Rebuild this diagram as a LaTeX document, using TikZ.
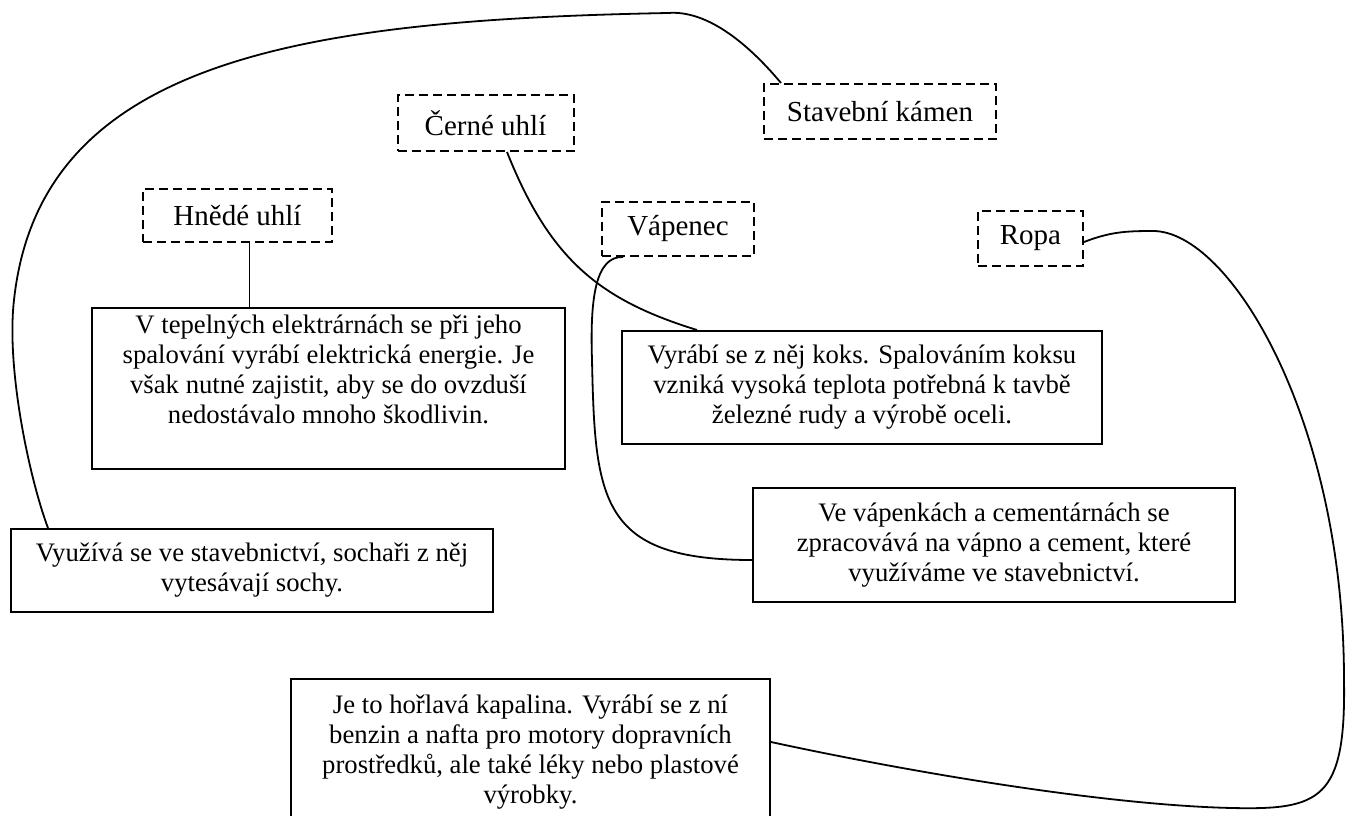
\documentclass[tikz,border=0pt]{standalone}
\usepackage{fontspec}
\setmainfont{Liberation Serif}
\begin{document}
\begin{tikzpicture}[x=1pt, y=-1pt,
  nazev/.style={draw, line width=2pt, dash pattern=on 9pt off 5pt, inner sep=0pt, font=\fontsize{29}{33}\selectfont},
  ramec/.style={draw, line width=2pt, inner sep=0pt},
  popis/.style={align=center, inner sep=0pt, font=\fontsize{26.7}{30}\selectfont},
  spoj/.style={line width=1.8pt}]
  \useasboundingbox (0,0) rectangle (1357,816);
  \clip (0,0) rectangle (1357,816);

  % nazvy surovin
  \node[nazev, minimum width=232pt, minimum height=55pt] (kamen) at (880,111.5) {Stavební kámen};
  \node[nazev, minimum width=176pt, minimum height=56pt] (cerne) at (485.5,123) {Černé uhlí};
  \node[nazev, minimum width=189pt, minimum height=53pt] (hnede) at (237.5,215.5) {Hnědé uhlí};
  \node[nazev, minimum width=152pt, minimum height=54pt] (vapenec) at (678,229) {Vápenec};
  \node[nazev, minimum width=105pt, minimum height=55pt] (ropa) at (1030.5,238.5) {Ropa};

  % popisy
  \node[ramec, minimum width=473pt, minimum height=161pt] (tepelne) at (328.5,388.5) {};
  \node[popis, anchor=north] (tepelneText) at ([yshift=-8pt]tepelne.north)
    {V tepelných elektrárnách se při jeho\\
     spalování vyrábí elektrická energie. Je\\
     však nutné zajistit, aby se do ovzduší\\
     nedostávalo mnoho škodlivin.};
  \node[ramec, popis, minimum width=480pt, minimum height=113pt] (vyrabi) at (862,387.5)
    {Vyrábí se z něj koks. Spalováním koksu\\
     vzniká vysoká teplota potřebná k tavbě\\
     železné rudy a výrobě oceli.};
  \node[ramec, popis, minimum width=482pt, minimum height=114pt] (vapkach) at (994,545)
    {Ve vápenkách a cementárnách se\\
     zpracovává na vápno a cement, které\\
     využíváme ve stavebnictví.};
  \node[ramec, popis, minimum width=482pt, minimum height=83pt] (vyuziva) at (252,570.5)
    {Využívá se ve stavebnictví, sochaři z něj\\
     vytesávají sochy.};
  \node[ramec, minimum width=479pt, minimum height=151pt] (jeto) at (530.5,754.5) {};
  \node[popis, anchor=north] (jetoText) at ([yshift=-17pt]jeto.north)
    {Je to hořlavá kapalina. Vyrábí se z ní\\
     benzin a nafta pro motory dopravních\\
     prostředků, ale také léky nebo plastové\\
     výrobky.};

  % spojnice
  \draw[spoj] ([xshift=12pt]hnede.south) -- ([xshift=12pt]hnede.south |- tepelne.north);
  \draw[spoj] ([xshift=21.5pt]cerne.south) .. controls (550,260) and (600,300) .. ([xshift=76pt]vyrabi.north west);
  \draw[spoj] ([xshift=-55pt]vapenec.south) .. controls (595,256) and (590,300) .. (592,360)
    .. controls (595,500) and (600,560) .. ([yshift=-15pt]vapkach.west);
  \draw[spoj] ([xshift=-99pt]kamen.north) .. controls (745,40) and (705,10) .. (668,13)
    .. controls (300,20) and (40,60) .. (14,300)
    .. controls (6,370) and (30,480) .. ([xshift=38pt]vyuziva.north west);
  \draw[spoj] ([yshift=-3.5pt]ropa.east) .. controls (1110,232) and (1125,231) .. (1153,231)
    .. controls (1230,231) and (1344,420) .. (1344,680)
    .. controls (1346,800) and (1320,810) .. (1232,808)
    .. controls (1100,805) and (900,770) .. ([yshift=-64pt]jeto.north east);
\end{tikzpicture}
\end{document}
